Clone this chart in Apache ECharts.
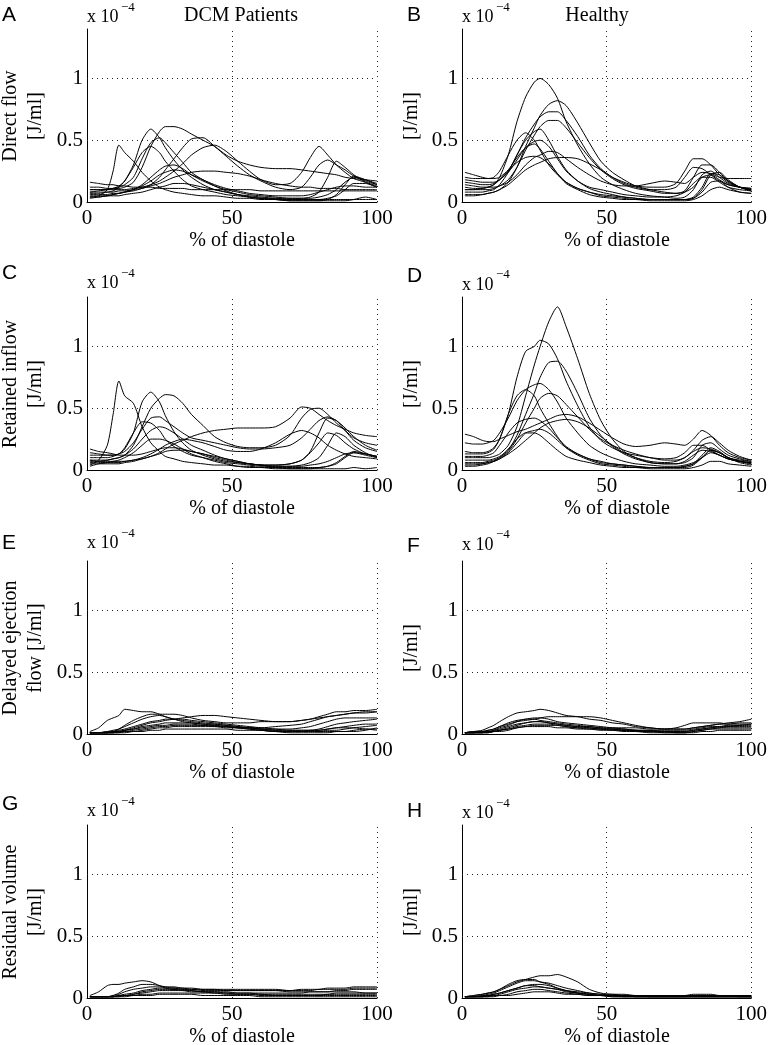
<!DOCTYPE html>
<html><head><meta charset="utf-8">
<script src="https://cdn.jsdelivr.net/npm/echarts@6/dist/echarts.min.js"></script>
<style>html,body{margin:0;padding:0;background:#fff}#c{width:770px;height:1045px}</style>
</head><body><div id="c"></div>
<script>
// ---- data (values in units of 1e-4 J/ml) ----
const X = [1,4,7,9,11,13,16,19,22,25,27,30,33,36,40,44,48,52,56,60,65,70,74,77,80,83,86,89,92,96,100];
const xTicks = [0, 50, 100];
const yTicks = [0, 0.5, 1];

const directDCM = [
 [0.04,0.05,0.1,0.25,0.46,0.4,0.33,0.24,0.17,0.12,0.1,0.08,0.07,0.06,0.05,0.05,0.04,0.03,0.03,0.02,0.02,0.02,0.02,0.02,0.02,0.03,0.05,0.1,0.15,0.15,0.12],
 [0.08,0.09,0.1,0.11,0.13,0.17,0.3,0.5,0.59,0.52,0.44,0.34,0.26,0.2,0.14,0.1,0.08,0.06,0.05,0.04,0.03,0.03,0.03,0.03,0.04,0.06,0.1,0.16,0.2,0.18,0.14],
 [0.12,0.12,0.11,0.11,0.11,0.12,0.16,0.28,0.45,0.57,0.61,0.61,0.59,0.55,0.5,0.45,0.38,0.33,0.3,0.28,0.27,0.27,0.26,0.25,0.24,0.23,0.22,0.2,0.19,0.18,0.17],
 [0.06,0.06,0.06,0.07,0.07,0.08,0.09,0.11,0.14,0.2,0.26,0.35,0.44,0.51,0.52,0.45,0.37,0.29,0.22,0.17,0.12,0.1,0.12,0.2,0.3,0.34,0.3,0.26,0.21,0.17,0.14],
 [0.1,0.1,0.1,0.1,0.1,0.1,0.11,0.12,0.14,0.17,0.2,0.25,0.31,0.38,0.44,0.46,0.41,0.33,0.25,0.18,0.14,0.15,0.24,0.36,0.45,0.38,0.3,0.24,0.19,0.16,0.13],
 [0.1,0.1,0.1,0.11,0.12,0.14,0.2,0.35,0.48,0.52,0.48,0.4,0.32,0.24,0.18,0.14,0.11,0.09,0.07,0.06,0.05,0.05,0.05,0.06,0.08,0.1,0.12,0.13,0.13,0.12,0.12],
 [0.07,0.07,0.08,0.09,0.12,0.17,0.28,0.4,0.45,0.4,0.33,0.25,0.18,0.13,0.1,0.08,0.06,0.05,0.04,0.03,0.03,0.02,0.02,0.02,0.02,0.02,0.02,0.02,0.02,0.02,0.02],
 [0.05,0.05,0.05,0.06,0.07,0.08,0.1,0.14,0.2,0.26,0.29,0.3,0.27,0.22,0.17,0.13,0.1,0.08,0.06,0.05,0.04,0.03,0.03,0.04,0.08,0.2,0.33,0.28,0.22,0.16,0.12],
 [0.08,0.08,0.08,0.08,0.09,0.09,0.1,0.11,0.13,0.15,0.17,0.2,0.22,0.24,0.25,0.25,0.24,0.23,0.21,0.18,0.15,0.13,0.12,0.12,0.11,0.11,0.11,0.1,0.1,0.1,0.1],
 [0.16,0.15,0.14,0.14,0.13,0.13,0.12,0.12,0.12,0.11,0.11,0.11,0.11,0.1,0.1,0.1,0.1,0.1,0.1,0.09,0.09,0.09,0.09,0.09,0.09,0.09,0.09,0.09,0.09,0.09,0.09],
 [0.03,0.04,0.05,0.06,0.07,0.08,0.1,0.13,0.17,0.22,0.24,0.26,0.25,0.22,0.18,0.13,0.09,0.06,0.04,0.03,0.02,0.01,0.01,0.01,0.01,0.02,0.06,0.14,0.21,0.18,0.15],
 [0.04,0.04,0.05,0.05,0.05,0.06,0.07,0.08,0.1,0.12,0.13,0.15,0.15,0.14,0.12,0.1,0.08,0.06,0.04,0.03,0.02,0.01,0.01,0.01,0.01,0.01,0.01,0.01,0.02,0.04,0.02]
];
const directHealthy = [
 [0.12,0.11,0.11,0.12,0.14,0.2,0.38,0.65,0.85,0.97,1.0,0.95,0.84,0.65,0.46,0.31,0.2,0.14,0.1,0.07,0.05,0.04,0.03,0.04,0.1,0.22,0.25,0.2,0.15,0.12,0.1],
 [0.06,0.06,0.06,0.07,0.08,0.1,0.16,0.28,0.45,0.6,0.7,0.79,0.82,0.78,0.64,0.48,0.33,0.24,0.18,0.13,0.1,0.08,0.07,0.09,0.2,0.3,0.3,0.24,0.17,0.12,0.1],
 [0.18,0.17,0.16,0.16,0.16,0.18,0.25,0.38,0.52,0.63,0.69,0.73,0.73,0.66,0.53,0.38,0.27,0.2,0.15,0.12,0.1,0.1,0.12,0.2,0.28,0.27,0.22,0.17,0.14,0.12,0.11],
 [0.1,0.1,0.1,0.1,0.11,0.13,0.18,0.28,0.42,0.54,0.61,0.66,0.66,0.6,0.48,0.36,0.26,0.19,0.14,0.11,0.09,0.07,0.07,0.08,0.12,0.2,0.22,0.18,0.14,0.12,0.11],
 [0.08,0.08,0.08,0.09,0.1,0.14,0.24,0.38,0.5,0.57,0.59,0.5,0.37,0.26,0.17,0.11,0.08,0.06,0.04,0.03,0.02,0.02,0.02,0.02,0.04,0.12,0.23,0.22,0.17,0.12,0.09],
 [0.2,0.19,0.19,0.19,0.2,0.25,0.38,0.5,0.56,0.5,0.42,0.3,0.22,0.16,0.11,0.08,0.05,0.04,0.03,0.02,0.02,0.02,0.02,0.02,0.03,0.08,0.16,0.17,0.12,0.08,0.07],
 [0.24,0.22,0.2,0.19,0.19,0.2,0.26,0.36,0.44,0.47,0.43,0.33,0.23,0.15,0.1,0.06,0.04,0.03,0.02,0.02,0.01,0.01,0.01,0.01,0.02,0.05,0.1,0.12,0.1,0.08,0.07],
 [0.14,0.13,0.12,0.12,0.12,0.13,0.16,0.22,0.3,0.36,0.38,0.41,0.4,0.35,0.28,0.22,0.17,0.14,0.13,0.13,0.15,0.17,0.16,0.15,0.2,0.24,0.23,0.2,0.19,0.19,0.19],
 [0.05,0.05,0.06,0.07,0.08,0.1,0.14,0.2,0.26,0.3,0.32,0.35,0.36,0.36,0.35,0.31,0.26,0.2,0.16,0.13,0.12,0.12,0.15,0.25,0.35,0.35,0.3,0.22,0.16,0.12,0.1],
 [0.1,0.1,0.11,0.12,0.14,0.18,0.25,0.32,0.36,0.37,0.36,0.31,0.23,0.16,0.11,0.08,0.06,0.05,0.04,0.03,0.02,0.02,0.02,0.02,0.03,0.1,0.22,0.24,0.18,0.12,0.09],
 [0.16,0.15,0.14,0.14,0.15,0.18,0.24,0.34,0.44,0.49,0.5,0.45,0.35,0.25,0.17,0.12,0.1,0.08,0.06,0.05,0.04,0.04,0.05,0.08,0.15,0.2,0.2,0.16,0.12,0.1,0.09]
];
const retainedDCM = [
 [0.04,0.08,0.2,0.45,0.72,0.6,0.54,0.35,0.22,0.15,0.11,0.09,0.07,0.06,0.05,0.04,0.04,0.03,0.03,0.02,0.02,0.02,0.02,0.02,0.02,0.03,0.05,0.1,0.14,0.13,0.11],
 [0.1,0.1,0.1,0.11,0.13,0.17,0.3,0.55,0.63,0.55,0.44,0.31,0.22,0.16,0.12,0.09,0.07,0.06,0.05,0.04,0.04,0.05,0.08,0.15,0.3,0.42,0.4,0.32,0.24,0.18,0.15],
 [0.08,0.08,0.08,0.09,0.1,0.12,0.2,0.35,0.5,0.58,0.61,0.6,0.54,0.45,0.36,0.27,0.22,0.19,0.18,0.18,0.2,0.28,0.42,0.49,0.5,0.45,0.38,0.32,0.26,0.22,0.2],
 [0.12,0.12,0.12,0.12,0.13,0.15,0.22,0.33,0.42,0.43,0.4,0.35,0.3,0.26,0.24,0.22,0.2,0.18,0.17,0.17,0.18,0.2,0.26,0.33,0.4,0.43,0.4,0.34,0.27,0.2,0.16],
 [0.14,0.13,0.12,0.12,0.13,0.18,0.3,0.39,0.38,0.32,0.25,0.19,0.15,0.12,0.1,0.08,0.06,0.05,0.04,0.03,0.03,0.03,0.04,0.06,0.1,0.2,0.3,0.27,0.2,0.14,0.1],
 [0.08,0.07,0.07,0.07,0.07,0.07,0.08,0.09,0.11,0.14,0.17,0.21,0.24,0.27,0.3,0.32,0.33,0.34,0.34,0.34,0.35,0.42,0.51,0.5,0.45,0.4,0.36,0.33,0.3,0.28,0.27],
 [0.06,0.06,0.06,0.06,0.06,0.07,0.08,0.1,0.13,0.17,0.2,0.23,0.25,0.24,0.22,0.19,0.16,0.15,0.15,0.17,0.22,0.29,0.32,0.3,0.26,0.2,0.16,0.13,0.11,0.1,0.09],
 [0.17,0.15,0.14,0.13,0.12,0.12,0.12,0.13,0.15,0.17,0.18,0.18,0.17,0.15,0.13,0.1,0.08,0.06,0.05,0.04,0.04,0.05,0.08,0.14,0.22,0.3,0.28,0.22,0.17,0.13,0.11],
 [0.03,0.05,0.06,0.07,0.08,0.1,0.14,0.2,0.25,0.25,0.24,0.21,0.17,0.13,0.1,0.07,0.05,0.03,0.02,0.02,0.01,0.01,0.01,0.01,0.02,0.03,0.06,0.11,0.15,0.13,0.11],
 [0.05,0.05,0.05,0.05,0.05,0.06,0.07,0.09,0.11,0.13,0.15,0.16,0.16,0.15,0.13,0.11,0.09,0.07,0.05,0.04,0.02,0.01,0.01,0.01,0.01,0.01,0.01,0.01,0.02,0.01,0.02],
 [0.07,0.07,0.08,0.09,0.1,0.12,0.17,0.25,0.32,0.35,0.34,0.3,0.25,0.2,0.16,0.12,0.09,0.07,0.05,0.04,0.03,0.03,0.03,0.04,0.05,0.07,0.1,0.13,0.14,0.12,0.1]
];
const retainedHealthy = [
 [0.1,0.1,0.1,0.1,0.11,0.13,0.2,0.35,0.6,0.85,1.0,1.2,1.32,1.16,0.9,0.62,0.4,0.25,0.15,0.1,0.06,0.05,0.05,0.07,0.12,0.16,0.15,0.12,0.09,0.07,0.06],
 [0.15,0.14,0.14,0.15,0.18,0.25,0.45,0.75,0.96,1.0,1.05,1.02,0.9,0.72,0.52,0.35,0.24,0.18,0.14,0.12,0.1,0.09,0.1,0.14,0.2,0.2,0.16,0.12,0.09,0.07,0.06],
 [0.08,0.08,0.08,0.08,0.09,0.11,0.16,0.28,0.45,0.62,0.75,0.87,0.88,0.8,0.62,0.42,0.28,0.19,0.13,0.09,0.06,0.05,0.05,0.06,0.1,0.2,0.22,0.17,0.12,0.09,0.07],
 [0.22,0.21,0.21,0.22,0.24,0.3,0.42,0.56,0.65,0.69,0.7,0.65,0.55,0.42,0.3,0.2,0.14,0.1,0.07,0.05,0.04,0.03,0.03,0.04,0.06,0.1,0.14,0.12,0.09,0.07,0.06],
 [0.13,0.13,0.13,0.14,0.17,0.25,0.45,0.6,0.65,0.6,0.5,0.38,0.27,0.18,0.12,0.08,0.05,0.04,0.03,0.02,0.02,0.02,0.02,0.03,0.05,0.1,0.16,0.14,0.1,0.07,0.05],
 [0.06,0.06,0.06,0.07,0.08,0.1,0.15,0.25,0.38,0.5,0.58,0.62,0.6,0.53,0.43,0.33,0.25,0.2,0.16,0.13,0.1,0.08,0.08,0.1,0.16,0.24,0.27,0.22,0.16,0.11,0.08],
 [0.29,0.27,0.24,0.23,0.23,0.25,0.28,0.31,0.33,0.36,0.38,0.41,0.44,0.45,0.43,0.38,0.32,0.26,0.21,0.19,0.2,0.22,0.21,0.2,0.25,0.32,0.28,0.2,0.14,0.1,0.08],
 [0.11,0.11,0.11,0.12,0.14,0.2,0.3,0.38,0.41,0.42,0.4,0.34,0.26,0.19,0.13,0.09,0.06,0.05,0.04,0.03,0.02,0.02,0.02,0.03,0.05,0.12,0.18,0.15,0.1,0.06,0.04],
 [0.04,0.04,0.05,0.06,0.07,0.09,0.13,0.18,0.24,0.3,0.34,0.38,0.4,0.41,0.39,0.34,0.27,0.2,0.14,0.1,0.07,0.06,0.07,0.1,0.15,0.18,0.17,0.14,0.1,0.08,0.07],
 [0.03,0.03,0.04,0.05,0.07,0.1,0.17,0.25,0.3,0.3,0.28,0.22,0.16,0.11,0.08,0.06,0.04,0.03,0.02,0.02,0.01,0.01,0.01,0.01,0.02,0.04,0.07,0.07,0.05,0.04,0.03],
 [0.05,0.05,0.05,0.06,0.07,0.09,0.14,0.22,0.3,0.32,0.33,0.3,0.24,0.18,0.13,0.09,0.07,0.05,0.04,0.03,0.02,0.02,0.02,0.02,0.04,0.1,0.16,0.14,0.1,0.07,0.05]
];
const delayedDCM = [
 [0.02,0.05,0.11,0.13,0.15,0.2,0.19,0.18,0.18,0.16,0.14,0.12,0.11,0.1,0.09,0.08,0.07,0.06,0.05,0.04,0.03,0.03,0.03,0.03,0.03,0.04,0.05,0.05,0.05,0.04,0.04],
 [0.01,0.01,0.01,0.02,0.04,0.07,0.11,0.14,0.16,0.16,0.16,0.16,0.15,0.13,0.11,0.1,0.09,0.09,0.09,0.1,0.1,0.1,0.11,0.12,0.14,0.16,0.18,0.18,0.19,0.19,0.2],
 [0.01,0.01,0.01,0.02,0.02,0.03,0.05,0.07,0.09,0.1,0.11,0.12,0.13,0.14,0.15,0.15,0.14,0.13,0.12,0.11,0.1,0.1,0.11,0.12,0.13,0.14,0.15,0.16,0.17,0.17,0.18],
 [0.01,0.01,0.02,0.03,0.04,0.06,0.09,0.12,0.14,0.15,0.14,0.12,0.1,0.09,0.08,0.07,0.06,0.05,0.05,0.04,0.04,0.04,0.05,0.06,0.08,0.1,0.12,0.13,0.13,0.13,0.13],
 [0.01,0.01,0.01,0.01,0.02,0.03,0.04,0.06,0.07,0.08,0.09,0.09,0.09,0.09,0.08,0.08,0.07,0.06,0.05,0.04,0.03,0.02,0.02,0.02,0.03,0.04,0.05,0.06,0.07,0.08,0.08],
 [0.01,0.01,0.01,0.02,0.02,0.03,0.04,0.05,0.06,0.07,0.07,0.08,0.08,0.08,0.07,0.07,0.06,0.05,0.04,0.03,0.02,0.02,0.02,0.03,0.04,0.06,0.08,0.09,0.1,0.11,0.12],
 [0.01,0.01,0.01,0.01,0.02,0.02,0.03,0.04,0.05,0.06,0.06,0.07,0.07,0.07,0.07,0.06,0.06,0.05,0.04,0.03,0.02,0.01,0.01,0.01,0.01,0.01,0.02,0.02,0.03,0.04,0.03],
 [0.01,0.01,0.02,0.02,0.03,0.04,0.06,0.08,0.1,0.11,0.12,0.12,0.12,0.11,0.1,0.09,0.08,0.07,0.06,0.05,0.04,0.03,0.03,0.03,0.02,0.02,0.02,0.02,0.02,0.03,0.05],
 [0.01,0.01,0.01,0.01,0.01,0.02,0.02,0.03,0.04,0.05,0.05,0.06,0.06,0.06,0.06,0.06,0.05,0.05,0.05,0.05,0.06,0.07,0.08,0.1,0.12,0.14,0.15,0.16,0.17,0.18,0.18],
 [0.01,0.01,0.01,0.01,0.01,0.01,0.02,0.02,0.03,0.03,0.04,0.04,0.04,0.04,0.04,0.04,0.04,0.03,0.03,0.03,0.02,0.02,0.02,0.02,0.02,0.03,0.03,0.04,0.05,0.06,0.07]
];
const delayedHealthy = [
 [0.01,0.02,0.03,0.05,0.07,0.1,0.14,0.17,0.18,0.19,0.2,0.19,0.17,0.15,0.14,0.12,0.11,0.09,0.08,0.06,0.05,0.04,0.05,0.07,0.09,0.09,0.09,0.09,0.08,0.08,0.08],
 [0.01,0.02,0.02,0.03,0.04,0.06,0.08,0.1,0.11,0.12,0.13,0.14,0.14,0.14,0.14,0.14,0.13,0.11,0.09,0.07,0.05,0.04,0.04,0.04,0.05,0.06,0.07,0.08,0.09,0.1,0.12],
 [0.01,0.02,0.02,0.03,0.04,0.06,0.09,0.11,0.12,0.13,0.13,0.12,0.1,0.09,0.08,0.07,0.06,0.05,0.04,0.03,0.03,0.02,0.02,0.02,0.03,0.04,0.05,0.06,0.07,0.07,0.07],
 [0.01,0.01,0.02,0.02,0.03,0.05,0.07,0.1,0.12,0.12,0.11,0.1,0.09,0.08,0.07,0.06,0.05,0.04,0.04,0.03,0.03,0.03,0.03,0.03,0.04,0.05,0.06,0.06,0.06,0.06,0.06],
 [0.01,0.01,0.02,0.02,0.03,0.04,0.06,0.08,0.09,0.1,0.1,0.09,0.08,0.07,0.06,0.05,0.04,0.04,0.03,0.03,0.02,0.02,0.02,0.02,0.03,0.04,0.05,0.05,0.05,0.05,0.05],
 [0.01,0.01,0.01,0.02,0.02,0.03,0.04,0.06,0.07,0.08,0.08,0.08,0.07,0.06,0.05,0.05,0.04,0.04,0.03,0.03,0.02,0.02,0.01,0.01,0.02,0.03,0.04,0.05,0.06,0.07,0.08],
 [0.01,0.01,0.01,0.01,0.02,0.02,0.03,0.05,0.06,0.07,0.07,0.07,0.07,0.06,0.05,0.04,0.04,0.03,0.03,0.02,0.02,0.01,0.01,0.01,0.02,0.03,0.04,0.04,0.04,0.04,0.04],
 [0.01,0.01,0.01,0.01,0.02,0.03,0.05,0.07,0.09,0.1,0.1,0.09,0.08,0.07,0.06,0.06,0.05,0.05,0.05,0.05,0.04,0.04,0.04,0.04,0.05,0.06,0.07,0.08,0.08,0.09,0.09],
 [0.01,0.01,0.01,0.02,0.02,0.03,0.04,0.05,0.06,0.06,0.06,0.06,0.05,0.05,0.04,0.04,0.03,0.03,0.02,0.02,0.01,0.01,0.01,0.01,0.01,0.02,0.02,0.03,0.03,0.03,0.03]
];
const residualDCM = [
 [0.02,0.05,0.1,0.11,0.11,0.12,0.13,0.14,0.13,0.1,0.08,0.07,0.07,0.07,0.06,0.06,0.06,0.06,0.06,0.06,0.06,0.05,0.05,0.05,0.05,0.05,0.05,0.05,0.05,0.04,0.04],
 [0.01,0.01,0.01,0.02,0.04,0.07,0.09,0.11,0.11,0.1,0.09,0.08,0.08,0.07,0.07,0.07,0.06,0.06,0.06,0.06,0.06,0.06,0.07,0.07,0.07,0.08,0.08,0.08,0.09,0.09,0.09],
 [0.01,0.01,0.01,0.02,0.03,0.05,0.07,0.08,0.09,0.09,0.09,0.09,0.08,0.08,0.07,0.07,0.07,0.07,0.07,0.07,0.07,0.06,0.06,0.06,0.07,0.07,0.07,0.07,0.08,0.08,0.08],
 [0.01,0.01,0.01,0.01,0.02,0.03,0.04,0.06,0.07,0.08,0.08,0.08,0.07,0.06,0.05,0.05,0.04,0.04,0.04,0.03,0.03,0.03,0.03,0.03,0.03,0.03,0.04,0.04,0.04,0.04,0.04],
 [0.01,0.01,0.01,0.01,0.02,0.02,0.03,0.04,0.05,0.06,0.06,0.06,0.06,0.05,0.05,0.04,0.04,0.03,0.03,0.03,0.02,0.02,0.02,0.02,0.02,0.03,0.03,0.03,0.03,0.03,0.03],
 [0.01,0.01,0.01,0.01,0.01,0.02,0.02,0.03,0.03,0.04,0.04,0.04,0.04,0.04,0.04,0.04,0.03,0.03,0.03,0.02,0.02,0.02,0.02,0.02,0.02,0.02,0.02,0.02,0.02,0.02,0.02],
 [0.01,0.01,0.01,0.01,0.01,0.01,0.02,0.02,0.02,0.03,0.03,0.03,0.03,0.03,0.02,0.02,0.02,0.02,0.02,0.01,0.01,0.01,0.01,0.01,0.01,0.01,0.01,0.01,0.01,0.01,0.01],
 [0.01,0.01,0.01,0.01,0.02,0.02,0.03,0.05,0.06,0.07,0.07,0.07,0.06,0.06,0.05,0.05,0.05,0.04,0.04,0.04,0.04,0.04,0.04,0.05,0.05,0.05,0.06,0.06,0.07,0.07,0.07]
];
const residualHealthy = [
 [0.01,0.02,0.03,0.04,0.05,0.07,0.1,0.13,0.15,0.17,0.18,0.18,0.19,0.17,0.13,0.07,0.04,0.03,0.03,0.02,0.02,0.02,0.02,0.02,0.03,0.03,0.03,0.02,0.02,0.02,0.02],
 [0.01,0.02,0.03,0.04,0.05,0.07,0.11,0.14,0.15,0.15,0.13,0.11,0.08,0.06,0.04,0.03,0.02,0.02,0.02,0.02,0.02,0.02,0.02,0.02,0.02,0.02,0.02,0.02,0.02,0.02,0.02],
 [0.01,0.01,0.02,0.03,0.04,0.06,0.09,0.12,0.14,0.14,0.13,0.12,0.1,0.08,0.06,0.04,0.03,0.02,0.02,0.02,0.01,0.01,0.01,0.01,0.01,0.01,0.01,0.01,0.01,0.01,0.01],
 [0.01,0.01,0.02,0.02,0.03,0.04,0.06,0.08,0.1,0.11,0.11,0.1,0.08,0.06,0.04,0.03,0.02,0.02,0.01,0.01,0.01,0.01,0.01,0.01,0.02,0.02,0.02,0.02,0.02,0.01,0.01],
 [0.01,0.01,0.01,0.02,0.02,0.03,0.05,0.07,0.08,0.09,0.09,0.08,0.07,0.05,0.04,0.03,0.02,0.02,0.02,0.01,0.01,0.01,0.01,0.01,0.01,0.01,0.01,0.01,0.01,0.01,0.01],
 [0.01,0.01,0.01,0.01,0.02,0.02,0.03,0.05,0.06,0.07,0.07,0.06,0.05,0.04,0.03,0.02,0.02,0.01,0.01,0.01,0.01,0.01,0.01,0.01,0.01,0.01,0.01,0.01,0.01,0.01,0.01],
 [0.01,0.01,0.01,0.01,0.01,0.02,0.02,0.03,0.04,0.05,0.05,0.05,0.04,0.03,0.03,0.02,0.02,0.01,0.01,0.01,0.01,0.01,0.01,0.01,0.01,0.01,0.01,0.01,0.01,0.01,0.01],
 [0.01,0.01,0.01,0.02,0.03,0.04,0.06,0.08,0.1,0.1,0.09,0.08,0.07,0.06,0.05,0.04,0.03,0.03,0.02,0.02,0.02,0.02,0.02,0.02,0.02,0.02,0.02,0.02,0.02,0.02,0.02]
];

const panelSeries = [directDCM, directHealthy, retainedDCM, retainedHealthy, delayedDCM, delayedHealthy, residualDCM, residualHealthy];
const panelLetters = ['A','B','C','D','E','F','G','H'];
const yLabelsLeft = [['Direct flow','[J/ml]'],['Retained inflow','[J/ml]'],['Delayed ejection','flow [J/ml]'],['Residual volume','[J/ml]']];
const yLabelRight = '[J/ml]';
const columnTitles = ['DCM Patients','Healthy'];
const xLabel = '% of diastole';

// ---- layout ----
const COL_LEFT = [87, 462];
const ROW_TOP = [29, 297, 561, 825];
const GW = 290, GH = 173;
const SERIF = 'Liberation Serif';
const SANS = 'Liberation Sans';
const letterPos = [[2,15.5],[407,15.5],[2,273.5],[407,276],[2,543.5],[407,546],[2,804],[407,811]];
const expPosY = [17.5,17.5,283.5,285,543.5,545,811.5,813.5];

const grids = [], xAxes = [], yAxes = [], series = [], graphics = [];
panelSeries.forEach((curves, i) => {
  const r = Math.floor(i / 2), c = i % 2;
  grids.push({left: COL_LEFT[c], top: ROW_TOP[r], width: GW, height: GH});
  xAxes.push({
    type: 'value', gridIndex: i, min: xTicks[0], max: xTicks[xTicks.length-1], interval: 50,
    axisLine: {show: true, onZero: false, lineStyle: {color: '#000', width: 1}},
    axisTick: {show: false}, splitLine: {show: false},
    axisLabel: {color: '#000', fontFamily: SERIF, fontSize: 21, margin: 6,
      formatter: v => xTicks.includes(v) ? String(v) : ''}
  });
  yAxes.push({
    type: 'value', gridIndex: i, min: 0, max: 1.4, interval: 0.5,
    axisLine: {show: true, lineStyle: {color: '#000', width: 1}},
    axisTick: {show: false}, splitLine: {show: false},
    axisLabel: {color: '#000', fontFamily: SERIF, fontSize: 21, margin: 4, showMaxLabel: true,
      formatter: v => yTicks.some(t => Math.abs(t - v) < 1e-9) ? String(v) : ''}
  });
  curves.forEach((vals, k) => {
    const s = {
      type: 'line', xAxisIndex: i, yAxisIndex: i,
      data: X.map((x, j) => [x, vals[j]]),
      showSymbol: false, symbol: 'none', smooth: 0.25, silent: true,
      lineStyle: {color: '#000', width: 1}, animation: false, z: 3
    };
    if (k === 0) {
      s.markLine = {
        silent: true, symbol: ['none','none'], label: {show: false}, animation: false,
        lineStyle: {type: [1, 4], color: '#222', width: 1},
        data: [{xAxis: 50}, {xAxis: 100}, {yAxis: 0.5}, {yAxis: 1}]
      };
    }
    series.push(s);
  });
  // panel letter
  graphics.push({type: 'text', x: letterPos[i][0], y: letterPos[i][1],
    style: {text: panelLetters[i], font: '21px ' + SANS, fill: '#000', align: 'left', verticalAlign: 'middle'}});
  // x 10^-4
  const gx = COL_LEFT[c];
  graphics.push({type: 'text', x: gx, y: expPosY[i],
    style: {text: 'x 10', font: '18px ' + SERIF, fill: '#000', align: 'left', verticalAlign: 'middle'}});
  graphics.push({type: 'text', x: gx + 34, y: expPosY[i] - 10,
    style: {text: '\u22124', font: '13px ' + SERIF, fill: '#000', align: 'left', verticalAlign: 'middle'}});
  // x label
  graphics.push({type: 'text', x: (c === 0 ? 242 : 617), y: ROW_TOP[r] + GH + 39,
    style: {text: xLabel, font: '20px ' + SERIF, fill: '#000', align: 'center', verticalAlign: 'middle'}});
  // y labels
  const yc = ROW_TOP[r] + GH / 2 + 0.5;
  if (c === 0) {
    graphics.push({type: 'text', x: 11, y: yc, rotation: Math.PI / 2,
      style: {text: yLabelsLeft[r][0], font: '20px ' + SERIF, fill: '#000', align: 'center', verticalAlign: 'middle'}});
    graphics.push({type: 'text', x: 36, y: yc, rotation: Math.PI / 2,
      style: {text: yLabelsLeft[r][1], font: '20px ' + SERIF, fill: '#000', align: 'center', verticalAlign: 'middle'}});
  } else {
    graphics.push({type: 'text', x: 412, y: yc, rotation: Math.PI / 2,
      style: {text: yLabelRight, font: '20px ' + SERIF, fill: '#000', align: 'center', verticalAlign: 'middle'}});
  }
});
graphics.push({type: 'text', x: 241, y: 16,
  style: {text: columnTitles[0], font: '20px ' + SERIF, fill: '#000', align: 'center', verticalAlign: 'middle'}});
graphics.push({type: 'text', x: 597, y: 16,
  style: {text: columnTitles[1], font: '20px ' + SERIF, fill: '#000', align: 'center', verticalAlign: 'middle'}});

const chart = echarts.init(document.getElementById('c'), null, {renderer: 'canvas'});
chart.setOption({
  animation: false,
  backgroundColor: '#fff',
  grid: grids, xAxis: xAxes, yAxis: yAxes, series: series, graphic: graphics
});
</script></body></html>
